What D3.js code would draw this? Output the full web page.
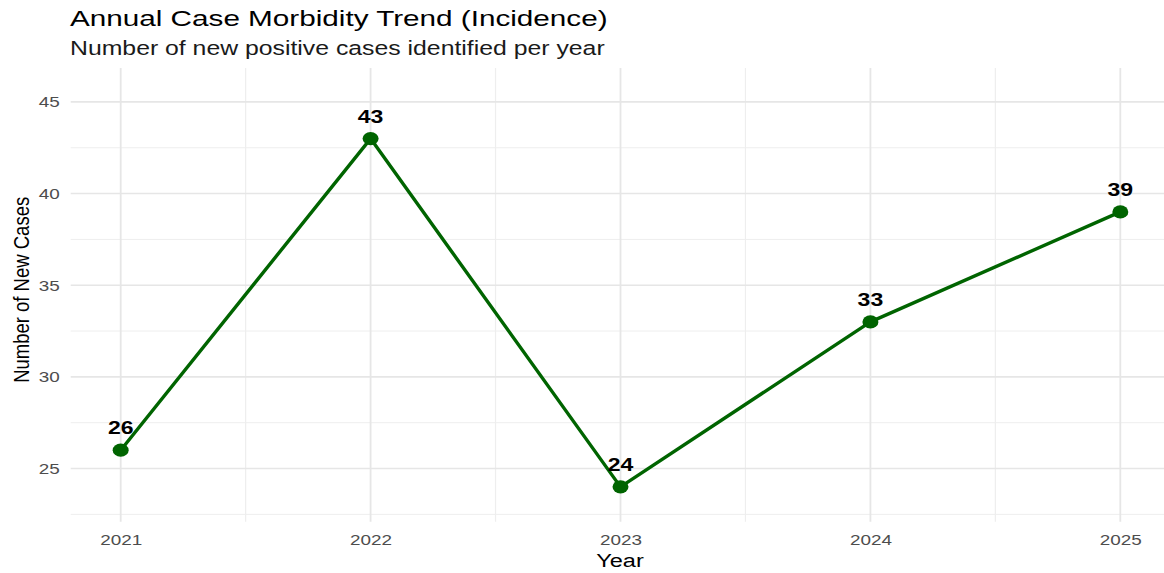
<!DOCTYPE html>
<html>
<head>
<meta charset="utf-8">
<script src="https://cdn.jsdelivr.net/npm/d3@7"></script>
<style>
  html, body { margin: 0; padding: 0; background: #fff; }
  svg { display: block; font-family: "Liberation Sans", Arial, sans-serif; }
</style>
</head>
<body>
<svg id="chart" width="1164" height="573"></svg>
<script>
// Yearly counts of new positive cases
const years = [2021, 2022, 2023, 2024, 2025];
const newCases = [26, 43, 24, 33, 39];
const yTicks = [25, 30, 35, 40, 45];
const yMinor = [22.5, 27.5, 32.5, 37.5, 42.5];
const xMinor = [2021.5, 2022.5, 2023.5, 2024.5];

const titleText = "Annual Case Morbidity Trend (Incidence)";
const subtitleText = "Number of new positive cases identified per year";
const xTitle = "Year";
const yTitle = "Number of New Cases";

const svg = d3.select("#chart");
const panel = { left: 70.7, right: 1170.3, top: 68, bottom: 521.7 };
// the whole figure is drawn wider than tall: glyphs are stretched horizontally
const stretch = 1.22;

const x = d3.scaleLinear().domain([2020.8, 2025.2]).range([panel.left, panel.right]);
const y = d3.scaleLinear().domain([22.1, 46.85]).range([panel.bottom, panel.top]);

const grid = svg.append("g");
// minor gridlines
grid.selectAll(".ym").data(yMinor).join("line")
  .attr("x1", panel.left).attr("x2", panel.right)
  .attr("y1", d => y(d)).attr("y2", d => y(d))
  .attr("stroke", "#eeeeee").attr("stroke-width", 1);
grid.selectAll(".xm").data(xMinor).join("line")
  .attr("x1", d => x(d)).attr("x2", d => x(d))
  .attr("y1", panel.top).attr("y2", panel.bottom)
  .attr("stroke", "#eeeeee").attr("stroke-width", 1.2);
// major gridlines
grid.selectAll(".yM").data(yTicks).join("line")
  .attr("x1", panel.left).attr("x2", panel.right)
  .attr("y1", d => y(d)).attr("y2", d => y(d))
  .attr("stroke", "#e6e6e6").attr("stroke-width", 1.6);
grid.selectAll(".xM").data(years).join("line")
  .attr("x1", d => x(d)).attr("x2", d => x(d))
  .attr("y1", panel.top).attr("y2", panel.bottom)
  .attr("stroke", "#e6e6e6").attr("stroke-width", 1.8);

// axes (labels only, no domain or tick marks)
const yAxis = svg.append("g")
  .attr("transform", `translate(${panel.left},0)`)
  .call(d3.axisLeft(y).tickValues(yTicks).tickSize(0).tickPadding(9));
yAxis.select(".domain").remove();
yAxis.selectAll("text").attr("fill", "#4d4d4d").style("font-size", "15.5px")
  .style("font-family", "'Liberation Sans', Arial, sans-serif")
  .attr("transform", `scale(${stretch},1)`);

const xAxis = svg.append("g")
  .attr("transform", `translate(0,${panel.bottom})`)
  .call(d3.axisBottom(x).tickValues(years).tickFormat(d3.format("d")).tickSize(0).tickPadding(12));
xAxis.select(".domain").remove();
xAxis.selectAll("text").attr("fill", "#4d4d4d").style("font-size", "15.5px")
  .style("font-family", "'Liberation Sans', Arial, sans-serif")
  .attr("transform", `scale(${stretch},1)`);

// series
const data = years.map((yr, i) => ({ year: yr, value: newCases[i] }));
const line = d3.line().x(d => x(d.year)).y(d => y(d.value));
svg.append("path").datum(data)
  .attr("d", line)
  .attr("fill", "none")
  .attr("stroke", "#006400")
  .attr("stroke-width", 3.4)
  .attr("stroke-linejoin", "round");
svg.selectAll(".pt").data(data).join("ellipse")
  .attr("cx", d => x(d.year)).attr("cy", d => y(d.value))
  .attr("rx", 8).attr("ry", 6.6).attr("fill", "#006400");
svg.selectAll(".lbl").data(data).join("text")
  .attr("transform", d => `translate(${x(d.year)},${y(d.value) - 16}) scale(1.28,1)`)
  .attr("text-anchor", "middle")
  .attr("font-weight", "bold").attr("font-size", "18px").attr("fill", "#000")
  .text(d => d.value);

// titles, each stretched to its drawn width
function fitText(sel, width) {
  const w = sel.node().getComputedTextLength();
  const t = sel.attr("data-pos");
  sel.attr("transform", `${t} scale(${width / w},1)`);
}
const title = svg.append("text").attr("data-pos", "translate(70,26)")
  .attr("font-size", "22px").attr("fill", "#000").text(titleText);
fitText(title, 538);
const subtitle = svg.append("text").attr("data-pos", "translate(70,55)")
  .attr("font-size", "19.5px").attr("fill", "#1a1a1a").text(subtitleText);
fitText(subtitle, 535);
svg.append("text")
  .attr("transform", `translate(${(panel.left + 1170.3) / 2 - 0.5},567) scale(1.24,1)`)
  .attr("text-anchor", "middle").attr("font-size", "19px").attr("fill", "#000").text(xTitle);
svg.append("text")
  .attr("transform", `translate(28.5,${(panel.top + panel.bottom) / 2 - 5}) rotate(-90) scale(1,1.24)`)
  .attr("text-anchor", "middle").attr("font-size", "18.5px").attr("fill", "#000").text(yTitle);
</script>
</body>
</html>
